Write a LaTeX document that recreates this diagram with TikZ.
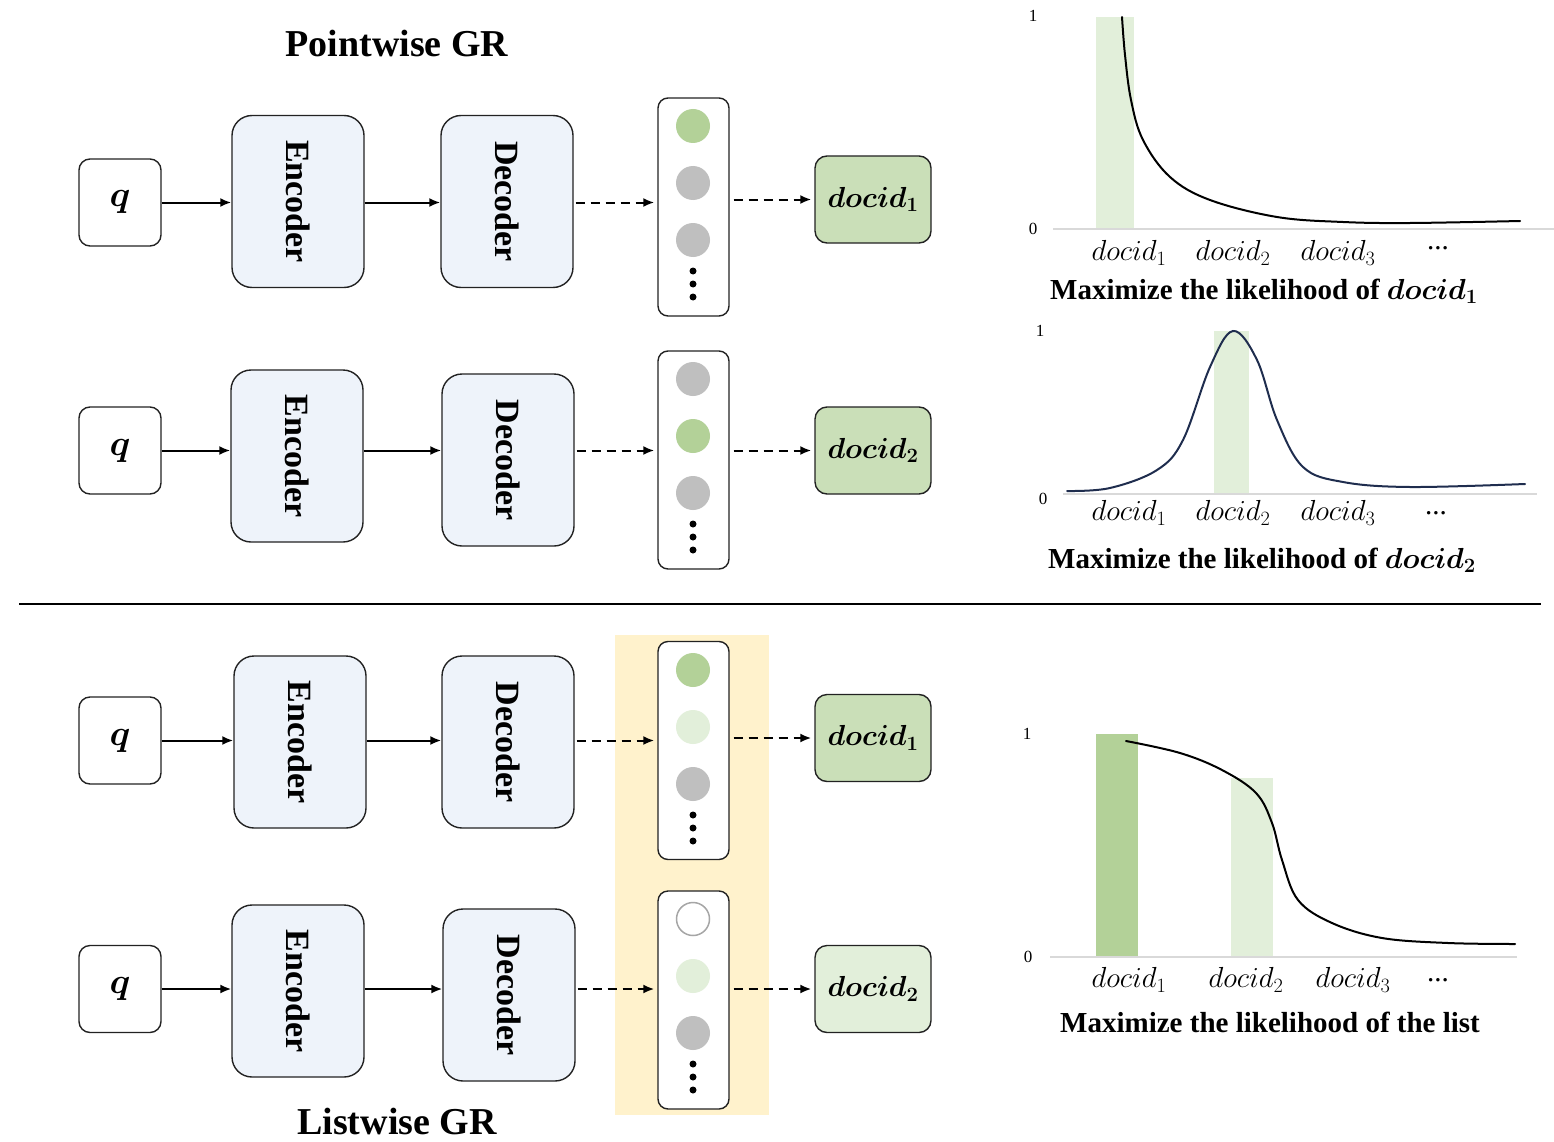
\RequirePackage{fix-cm}
\documentclass[tikz,border=0pt]{standalone}
\usepackage{fontspec}
\setmainfont{Liberation Serif}
\usepackage{bm}
\usepackage{graphicx}
\usetikzlibrary{arrows.meta}
\newcommand\myfs[1]{\fontsize{#1}{#1}\selectfont}
\definecolor{encfill}{HTML}{EEF3FA}
\definecolor{docgreen}{HTML}{CADFB8}
\definecolor{cgreen}{HTML}{B3D198}
\definecolor{clight}{HTML}{E2EFDA}
\definecolor{cgray}{HTML}{BFBFBF}
\definecolor{ybg}{HTML}{FFF2CC}
\definecolor{navy}{HTML}{1F2D4E}
\definecolor{axisgray}{HTML}{D9D9D9}
\definecolor{edge}{HTML}{222222}
\begin{document}
\begin{tikzpicture}[x=1pt,y=-1pt,
  qbox/.style={draw=edge, line width=1.4pt, rounded corners=11pt, fill=white, minimum width=82pt, minimum height=87pt, inner sep=0pt, font=\myfs{36}},
  encbox/.style={draw=edge, line width=1.4pt, rounded corners=20pt, fill=encfill, minimum width=132pt, minimum height=172pt, inner sep=0pt, font=\bfseries\myfs{34}},
  listbox/.style={draw=edge, line width=1.4pt, rounded corners=10pt, fill=white, minimum width=71pt, minimum height=218pt, inner sep=0pt},
  docbox/.style={draw=edge, line width=1.4pt, rounded corners=12pt, fill=docgreen, minimum width=116pt, minimum height=87pt, inner sep=0pt, font=\myfs{29}},
  dotc/.style={circle, minimum size=34pt, inner sep=0pt},
  smalldot/.style={circle, fill=black, minimum size=7pt, inner sep=0pt},
  arr/.style={-{Latex[length=11pt,width=9pt]}, line width=2pt},
  darr/.style={arr, dash pattern=on 9pt off 6pt},
  tick/.style={font=\myfs{17}},
  xlab/.style={font=\myfs{29}},
  ctitle/.style={font=\bfseries\myfs{29}},
  axis/.style={draw=axisgray, line width=2pt},
]
\useasboundingbox (0,0) rectangle (1554,1142);

% titles
\node[font=\bfseries\myfs{38}] (tpw) at (397,44) {Pointwise GR};
\node[font=\bfseries\myfs{38}] (tlw) at (397,1121) {Listwise GR};

% separator
\draw[line width=1.5pt] (19,604) -- (1541,604);

% yellow background
\fill[ybg] (615,635) rectangle (769,1115);

% ---------- Row 1 ----------
\node[qbox] (q1) at (120,202.5) {$\bm{q}$};
\node[encbox] (enc1) at (298,201.5) {\rotatebox{-90}{Encoder}};
\node[encbox] (dec1) at (507,201.5) {\rotatebox{-90}{Decoder}};
\node[listbox] (list1) at (693.5,207) {};
\node[dotc, fill=cgreen] (c11) at (693,126) {};
\node[dotc, fill=cgray] (c12) at (693,183) {};
\node[dotc, fill=cgray] (c13) at (693,240) {};
\node[smalldot] (d11) at (693,271) {};
\node[smalldot] (d12) at (693,284) {};
\node[smalldot] (d13) at (693,297) {};
\node[docbox] (doc1) at (873,199.5) {$\bm{docid_1}$};
\draw[arr] (q1.east) -- (q1.east -| enc1.west);
\draw[arr] (enc1.east |- q1.east) -- (q1.east -| dec1.west);
\draw[darr, shorten <=2pt, shorten >=3pt] (dec1.east |- q1.east) -- (q1.east -| list1.west);
\draw[darr, shorten <=4pt, shorten >=3pt] (list1.east |- doc1.west) -- (doc1.west);

% ---------- Row 2 ----------
\node[qbox] (q2) at (120,450.5) {$\bm{q}$};
\node[encbox] (enc2) at (297,456) {\rotatebox{-90}{Encoder}};
\node[encbox] (dec2) at (508,460) {\rotatebox{-90}{Decoder}};
\node[listbox] (list2) at (693.5,460) {};
\node[dotc, fill=cgray] (c21) at (693,379) {};
\node[dotc, fill=cgreen] (c22) at (693,436) {};
\node[dotc, fill=cgray] (c23) at (693,493) {};
\node[smalldot] (d21) at (693,524) {};
\node[smalldot] (d22) at (693,537) {};
\node[smalldot] (d23) at (693,550) {};
\node[docbox] (doc2) at (873,450.5) {$\bm{docid_2}$};
\draw[arr] (q2.east) -- (q2.east -| enc2.west);
\draw[arr] (enc2.east |- q2.east) -- (q2.east -| dec2.west);
\draw[darr, shorten <=2pt, shorten >=3pt] (dec2.east |- q2.east) -- (q2.east -| list2.west);
\draw[darr, shorten <=4pt, shorten >=3pt] (list2.east |- doc2.west) -- (doc2.west);

% ---------- Row 3 ----------
\node[qbox] (q3) at (120,740.5) {$\bm{q}$};
\node[encbox] (enc3) at (300,742) {\rotatebox{-90}{Encoder}};
\node[encbox] (dec3) at (508,742) {\rotatebox{-90}{Decoder}};
\node[listbox] (list3) at (693.5,750.5) {};
\node[dotc, fill=cgreen] (c31) at (693,670) {};
\node[dotc, fill=clight] (c32) at (693,727) {};
\node[dotc, fill=cgray] (c33) at (693,784) {};
\node[smalldot] (d31) at (693,815) {};
\node[smalldot] (d32) at (693,828) {};
\node[smalldot] (d33) at (693,841) {};
\node[docbox] (doc3) at (873,738) {$\bm{docid_1}$};
\draw[arr] (q3.east) -- (q3.east -| enc3.west);
\draw[arr] (enc3.east |- q3.east) -- (q3.east -| dec3.west);
\draw[darr, shorten <=2pt, shorten >=3pt] (dec3.east |- q3.east) -- (q3.east -| list3.west);
\draw[darr, shorten <=4pt, shorten >=3pt] (list3.east |- doc3.west) -- (doc3.west);

% ---------- Row 4 ----------
\node[qbox] (q4) at (120,989) {$\bm{q}$};
\node[encbox] (enc4) at (298,991) {\rotatebox{-90}{Encoder}};
\node[encbox] (dec4) at (509,995) {\rotatebox{-90}{Decoder}};
\node[listbox] (list4) at (693.5,1000) {};
\node[dotc, fill=white, draw=gray!70, line width=1.5pt, minimum size=33pt] (c41) at (693,919) {};
\node[dotc, fill=clight] (c42) at (693,976) {};
\node[dotc, fill=cgray] (c43) at (693,1033) {};
\node[smalldot] (d41) at (693,1064) {};
\node[smalldot] (d42) at (693,1077) {};
\node[smalldot] (d43) at (693,1090) {};
\node[docbox, fill=clight] (doc4) at (873,989) {$\bm{docid_2}$};
\draw[arr] (q4.east) -- (q4.east -| enc4.west);
\draw[arr] (enc4.east |- q4.east) -- (q4.east -| dec4.west);
\draw[darr, shorten <=2pt, shorten >=3pt] (dec4.east |- q4.east) -- (q4.east -| list4.west);
\draw[darr, shorten <=4pt, shorten >=3pt] (list4.east |- doc4.west) -- (doc4.west);

% ---------- Chart 1 ----------
\fill[clight] (1096,17) rectangle (1134,229);
\draw[axis] (1053,229) -- (1554,229);
\draw[line width=2pt, line cap=round] plot[smooth, tension=0.6] coordinates {(1122,17) (1125,55) (1131,100) (1143,140) (1170,177) (1210,200) (1277,217) (1343,222) (1410,223) (1520,221)};
\node[tick] (t11) at (1033,16) {1};
\node[tick] (t10) at (1033,229) {0};
\node[xlab] (l11) at (1129,253) {$docid_1$};
\node[xlab] (l12) at (1233,253) {$docid_2$};
\node[xlab] (l13) at (1338,253) {$docid_3$};
\node[xlab] (l14) at (1438,248) {...};
\node[ctitle] (ct1) at (1264,291) {Maximize the likelihood of $\bm{docid_1}$};

% ---------- Chart 2 ----------
\fill[clight] (1214,331) rectangle (1249,494);
\draw[axis] (1063,494) -- (1537,494);
\draw[navy, line width=2pt, line cap=round] plot[smooth, tension=0.6] coordinates {(1067,491) (1110,488) (1157,470) (1183,440) (1210,367) (1233,331) (1257,360) (1277,420) (1303,467) (1343,482) (1410,487) (1525,484)};
\node[tick] (t21) at (1040,331) {1};
\node[tick] (t20) at (1043,499) {0};
\node[xlab] (l21) at (1129,513) {$docid_1$};
\node[xlab] (l22) at (1233,513) {$docid_2$};
\node[xlab] (l23) at (1338,513) {$docid_3$};
\node[xlab] (l24) at (1436,513) {...};
\node[ctitle] (ct2) at (1262,560) {Maximize the likelihood of $\bm{docid_2}$};

% ---------- Chart 3 ----------
\fill[cgreen] (1096,734) rectangle (1138,957);
\fill[clight] (1231,778) rectangle (1273,957);
\draw[axis] (1050,957) -- (1517,957);
\draw[line width=2pt, line cap=round] plot[smooth, tension=0.6] coordinates {(1126,741) (1180,753) (1222,770) (1256,793) (1272,823) (1282,860) (1298,900) (1332,923) (1382,938) (1448,943) (1515,944)};
\node[tick] (t31) at (1027,734) {1};
\node[tick] (t30) at (1028,957) {0};
\node[xlab] (l31) at (1129,980) {$docid_1$};
\node[xlab] (l32) at (1246,980) {$docid_2$};
\node[xlab] (l33) at (1353,980) {$docid_3$};
\node[xlab] (l34) at (1438,980) {...};
\node[ctitle] (ct3) at (1270,1022) {Maximize the likelihood of the list};
\end{tikzpicture}
\end{document}
